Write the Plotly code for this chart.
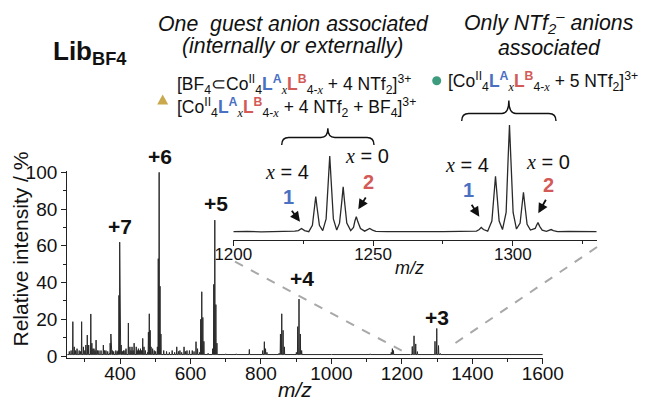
import plotly.graph_objects as go

W, H = 648, 401
FONT = "Liberation Sans, Arial, sans-serif"
BLUE = "#4a70c2"
RED = "#d35a57"

# ---------------- main spectrum data (m/z, relative intensity %) -------------
ntf2_mz = [394.8, 396.9, 399.0, 401.1, 403.2,
           506.0, 508.5, 511.0, 513.5, 516.0,
           663.0, 666.0, 669.0, 672.0, 675.0,
           900.5, 904.3, 908.0, 911.8, 915.5,
           1289.0, 1294.0, 1299.0, 1304.0, 1309.0]
ntf2_int = [3, 33, 62, 24, 6,
            5, 53, 100, 38, 12,
            4, 39, 74, 28, 7,
            2, 16, 31, 12, 3,
            0.8, 8, 15, 5.7, 1.4]

guest_mz = [370.0, 372.0, 374.0, 376.0, 378.0,
            478.0, 480.5, 483.0, 485.5, 488.0,
            626.0, 629.0, 632.0, 635.0, 638.0,
            851.5, 855.3, 859.0, 862.8, 866.5,
            1224.4, 1229.5, 1234.5, 1239.3, 1244.0]
guest_int = [1.5, 7, 12, 7, 3,
             2, 13, 23, 14, 5,
             2, 20, 35, 21, 8,
             1.5, 12, 23, 14, 5,
             0.6, 5.2, 11, 6.6, 2.4]

other_mz = [256, 261, 266, 270, 274, 278, 284, 288, 291, 296, 300, 303, 307, 311,
            317, 320, 323, 326, 329, 332, 336, 340, 346, 352.6, 356, 360, 365,
            382, 388, 392, 407, 410, 414, 417, 423.6, 428, 431, 434, 437, 440,
            446, 449, 452, 455, 458, 461, 464.4, 468, 472, 492.5, 497, 501,
            524, 532, 540, 548, 555, 561, 566, 570, 575, 581.7, 586, 590, 597,
            605, 610, 615.7, 620, 650, 700, 730, 767, 805, 809.6, 813, 817,
            1000, 1110, 1170, 1173, 1176]
other_int = [2.5, 3, 18.7, 5, 3, 4, 3, 2.5, 18.7, 5, 3, 6, 11.4, 6,
             22.9, 7, 4, 4, 3, 8.7, 3, 3, 3, 6, 3, 3, 2.5,
             2.5, 3, 2.5, 2.5, 3, 3, 4, 18, 5, 3, 5, 3, 7,
             5, 3, 4, 3, 4, 3, 9.6, 5, 3, 4, 3, 2.5,
             3, 2.5, 2, 3, 2, 5, 2.5, 3, 2, 5, 2.5, 3, 3,
             3, 2.5, 7.8, 4, 1.5, 1.2, 1.2, 3.6, 3, 7.8, 4, 2,
             1, 1.2, 2, 4, 3]

# ---------------- inset profile (m/z 1200-1330, intensity) -------------------
inset_mz = [1200, 1205, 1210, 1215, 1220, 1222,
            1223.3, 1224.4, 1225.5, 1227,
            1228.3, 1229, 1229.5, 1230, 1230.8, 1232,
            1233.2, 1234, 1234.5, 1235, 1235.8, 1237,
            1238, 1238.8, 1239.3, 1239.8, 1240.6, 1242,
            1243, 1243.5, 1244, 1244.6, 1245.5, 1247,
            1248, 1248.8, 1249.8, 1251,
            1255, 1260, 1265, 1270, 1275, 1280, 1285, 1287,
            1288, 1288.7, 1289.5, 1291,
            1292.5, 1293.3, 1293.8, 1294.3, 1295.1, 1296.3,
            1297.6, 1298.3, 1298.8, 1299.3, 1300.1, 1301.3,
            1302.6, 1303.3, 1303.8, 1304.3, 1305.1, 1306.3,
            1308, 1308.5, 1309, 1309.6, 1310.5, 1312,
            1313, 1313.7, 1314.5, 1316,
            1320, 1325, 1330]
inset_int = [2, 2.3, 1.8, 2.2, 2, 2.5,
             3, 5, 3, 2,
             8, 24, 35, 24, 8, 3,
             14, 50, 73, 50, 14, 3.5,
             10, 30, 44, 30, 10, 3,
             6, 12, 16, 11, 5, 2.5,
             3.5, 5, 3.5, 2.3,
             2, 2.2, 1.8, 2.1, 2, 2.2, 2, 2.5,
             4, 6, 4, 2.5,
             12, 38, 54, 38, 12, 4,
             20, 70, 102, 70, 20, 4.5,
             10, 27, 39, 27, 9, 3.5,
             5, 8, 10.5, 7, 3.5, 2.3,
             3, 4, 3, 2,
             2.2, 1.8, 2]

main_ticks_x = [400, 600, 800, 1000, 1200, 1400, 1600]
main_ticks_y = [0, 20, 40, 60, 80, 100]
inset_ticks = [1200, 1250, 1300]


def P(x, y):
    """pixel -> paper coordinates"""
    return x / W, 1 - y / H


# build stick spectrum polyline
BASE = 0.8
pk = sorted(zip(ntf2_mz + guest_mz + other_mz, ntf2_int + guest_int + other_int))
xs, ys = [250], [BASE]
for m, h in pk:
    xs += [m - 0.8, m, m + 0.8]
    ys += [BASE, h, BASE]
xs.append(1600)
ys.append(BASE)

fig = go.Figure()
fig.add_trace(go.Scatter(x=xs, y=ys, mode="lines", line=dict(color="#2a2a2a", width=1),
                         xaxis="x", yaxis="y", hoverinfo="skip", showlegend=False))
fig.add_trace(go.Scatter(x=inset_mz, y=inset_int, mode="lines", line=dict(color="#2a2a2a", width=1.3),
                         xaxis="x2", yaxis="y2", hoverinfo="skip", showlegend=False))

axis_common = dict(showline=True, linecolor="#222", linewidth=1.2, ticks="outside",
                   ticklen=5, tickwidth=1.2, tickcolor="#222", showgrid=False, zeroline=False,
                   automargin=False,
                   tickfont=dict(family=FONT, size=19, color="#111"))

fig.update_layout(
    template="none",
    width=W, height=H, autosize=False,
    margin=dict(l=0, r=0, t=0, b=0, pad=0, autoexpand=False),
    paper_bgcolor="white", plot_bgcolor="rgba(0,0,0,0)",
    showlegend=False,
    xaxis=dict(domain=[67.2 / W, 542.8 / W], range=[250, 1600], anchor="y",
               tickvals=main_ticks_x, ticklabelstandoff=-6,
               minor=dict(dtick=100, tick0=0, ticks="outside", ticklen=3, tickcolor="#222"),
               **axis_common),
    yaxis=dict(domain=[(H - 357.5) / H, (H - 170.5) / H], range=[-0.8, 101], anchor="x",
               tickvals=main_ticks_y,
               minor=dict(dtick=10, tick0=0, ticks="outside", ticklen=3, tickcolor="#222"),
               **axis_common),
    xaxis2=dict(domain=[233.3 / W, 596.7 / W], range=[1200, 1330], anchor="y2",
                tickvals=inset_ticks, ticklabelstandoff=-7,
                minor=dict(dtick=25, tick0=0, ticks="outside", ticklen=3, tickcolor="#222"),
                showline=True, linecolor="#222", linewidth=1.2, ticks="outside",
                ticklen=5, tickwidth=1.2, tickcolor="#222", showgrid=False, zeroline=False,
                automargin=False,
                tickfont=dict(family=FONT, size=17, color="#111")),
    yaxis2=dict(domain=[(H - 240) / H, (H - 120) / H], range=[-5.8, 106.7], anchor="x2",
                visible=False),
)

ann = []


def text(x, y, t, size, xanchor="center", yanchor="middle", color="#111", angle=0, align="center"):
    px_, py_ = P(x, y)
    ann.append(dict(x=px_, y=py_, xref="paper", yref="paper", text=t, showarrow=False,
                    xanchor=xanchor, yanchor=yanchor, textangle=angle, align=align,
                    font=dict(family=FONT, size=size, color=color)))


def arrow(hx, hy, tx, ty):
    px_, py_ = P(hx, hy)
    ann.append(dict(x=px_, y=py_, xref="paper", yref="paper", text="", showarrow=True,
                    ax=tx - hx, ay=ty - hy, arrowhead=2, arrowsize=1.1, arrowwidth=1.8,
                    arrowcolor="#111"))


# axis titles
text(20.5, 249, "Relative intensity / %", 21, angle=-90)
text(295, 389, "<i>m/z</i>", 21)
text(409, 268, "<i>m/z</i>", 18)

# charge-state labels
for lx, ly, lab in [(120, 226, "+7"), (160, 157, "+6"), (215.7, 203, "+5"),
                    (301.7, 278, "+4"), (436.7, 317, "+3")]:
    text(lx, ly, "<b>%s</b>" % lab, 21)

# headers
text(51, 53, "<b>Lib<sub>BF4</sub></b>", 26, xanchor="left")
text(293, 24, "<i>One\u00a0 guest anion associated</i>", 21.3)
text(292.5, 46, "<i>(internally or externally)</i>", 21.3)
text(549, 22.5, "<i>Only NTf<sub>2</sub><sup>\u2013</sup> anions</i>", 21.3)
text(549, 47.5, "<i>associated</i>", 21.3)

XI = "<span style='font-family:Liberation Serif'><i>x</i></span>"
LA = "<span style='color:%s'><b>L<sup>A</sup></b></span>" % BLUE
LB = "<span style='color:%s'><b>L<sup>B</sup></b></span>" % RED
CO = "Co<sup>II</sup><sub>4</sub>" + LA + "<sub>" + XI + "</sub>" + LB + "<sub>4-" + XI + "</sub>"
line1 = "[BF<sub>4</sub>\u2282" + CO + " + 4 NTf<sub>2</sub>]<sup>3+</sup>"
line2 = "[" + CO + " + 4 NTf<sub>2</sub> + BF<sub>4</sub>]<sup>3+</sup>"
line3 = "[" + CO + " + 5 NTf<sub>2</sub>]<sup>3+</sup>"
text(175, 95.5, line1 + "<br>" + line2, 17.5, xanchor="left", align="left")
text(446, 81.5, line3, 17.5, xanchor="left")

# inset labels
XS = "<span style='font-family:Liberation Serif'><i>x</i></span>"
text(286.7, 171.7, XS + " = 4", 20)
text(366.7, 156, XS + " = 0", 20)
text(466.7, 165, XS + " = 4", 20)
text(548.3, 161.7, XS + " = 0", 20)
text(288.3, 196.7, "<b>1</b>", 20, color=BLUE)
text(368.3, 181.7, "<b>2</b>", 20, color=RED)
text(468.3, 190, "<b>1</b>", 20, color=BLUE)
text(548.3, 185, "<b>2</b>", 20, color=RED)
arrow(300, 221.7, 290.7, 209.3)
arrow(358.3, 209.3, 366.7, 196)
arrow(479.3, 216.7, 470.7, 203.3)
arrow(538.3, 213.3, 546.7, 198.3)

fig.update_layout(annotations=ann)

shapes = []


def brace(x0, x1, yl, ye, ytip, r=7):
    xm = (x0 + x1) / 2

    def p(x, y):
        a, b = P(x, y)
        return "%.5f,%.5f" % (a, b)
    d = ("M " + p(x0, ye) + " Q " + p(x0, yl) + " " + p(x0 + r, yl) +
         " L " + p(xm - r, yl) + " Q " + p(xm, yl) + " " + p(xm, ytip) +
         " Q " + p(xm, yl) + " " + p(xm + r, yl) +
         " L " + p(x1 - r, yl) + " Q " + p(x1, yl) + " " + p(x1, ye))
    shapes.append(dict(type="path", xref="paper", yref="paper", path=d,
                       line=dict(color="#111", width=1.4)))


brace(281.7, 374, 137.5, 145, 128.3)
brace(461.7, 556, 113.5, 121, 100.5)

# legend symbols
a = P(157.2, 104.5); b = P(168.2, 104.5); c = P(162.7, 94.5)
shapes.append(dict(type="path", xref="paper", yref="paper",
                   path="M %.5f,%.5f L %.5f,%.5f L %.5f,%.5f Z" % (a + b + c),
                   fillcolor="#c9a94c", line=dict(width=0)))
c0 = P(432.2, 76.2); c1 = P(441.2, 85.2)
shapes.append(dict(type="circle", xref="paper", yref="paper", x0=c0[0], y0=c1[1],
                   x1=c1[0], y1=c0[1], fillcolor="#3e9c7e", line=dict(width=0)))

# dashed zoom lines
for (xa, ya, xb, yb) in [(235, 261.7, 401.7, 350.7), (597, 247, 450, 346.7)]:
    p0 = P(xa, ya); p1 = P(xb, yb)
    shapes.append(dict(type="line", xref="paper", yref="paper", x0=p0[0], y0=p0[1],
                       x1=p1[0], y1=p1[1], line=dict(color="#a8a8a8", width=2, dash="dash")))

fig.update_layout(shapes=shapes)
fig.write_html("out.html")
